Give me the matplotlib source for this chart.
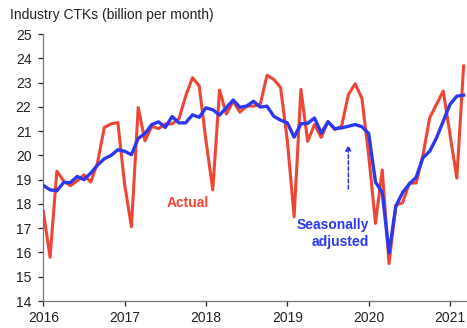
import matplotlib
matplotlib.use('Agg')
import matplotlib.pyplot as plt

# monthly values, Jan 2016 - Mar 2021
actual = [17.7, 15.8, 19.35, 18.95, 18.75, 18.95, 19.2, 18.9, 19.7, 21.15, 21.3, 21.35,
          18.8, 17.06, 21.97, 20.6, 21.2, 21.1, 21.3, 21.3, 21.5, 22.44, 23.2, 22.86,
          20.6, 18.58, 22.69, 21.7, 22.23, 21.78, 22.03, 22.03, 22.1, 23.3, 23.13, 22.8,
          20.6, 17.47, 22.72, 20.58, 21.27, 20.74, 21.4, 21.06, 21.2, 22.5, 22.95, 22.35,
          20.0, 17.2, 19.4, 15.54, 17.95, 18.05, 18.86, 18.86, 20.0, 21.55, 22.1, 22.65,
          20.85, 19.06, 23.68]
seas_adj = [18.76, 18.58, 18.54, 18.88, 18.88, 19.13, 19.0, 19.27, 19.6, 19.86, 20.0, 20.23,
            20.17, 20.03, 20.7, 20.9, 21.27, 21.38, 21.15, 21.6, 21.34, 21.34, 21.67, 21.57,
            21.96, 21.88, 21.66, 21.96, 22.28, 21.98, 22.03, 22.23, 21.99, 22.03, 21.61, 21.45,
            21.34, 20.75, 21.3, 21.32, 21.54, 20.92, 21.38, 21.1, 21.13, 21.2, 21.27, 21.18,
            20.9, 18.9, 18.47, 15.98, 17.9, 18.47, 18.82, 19.1, 19.9, 20.17, 20.72, 21.41,
            22.1, 22.44, 22.48]
years = ['2016', '2017', '2018', '2019', '2020', '2021']
yticks = list(range(14, 26))

red = '#EE4535'
blue = '#2B38EE'
plt.rcParams['font.family'] = ['Liberation Sans', 'DejaVu Sans']

fig = plt.figure(figsize=(4.67, 3.28), dpi=100)
ax = fig.add_axes([0.0927, 0.0823, 0.9073, 0.814])

months = list(range(len(actual)))
ax.plot(months, actual, color=red, lw=2.2, zorder=2)
ax.plot(months, seas_adj, color=blue, lw=2.4, zorder=3)

ax.set_xlim(0, 62.5)
ax.set_ylim(14, 25)
ax.set_yticks(yticks)
ax.set_xticks([12 * i for i in range(len(years))])
ax.set_xticklabels(years)
ax.tick_params(axis='both', labelsize=10, colors='#222222', length=3.5, width=0.9)
ax.tick_params(axis='y', pad=5)
ax.tick_params(axis='x', pad=4)
for s in ['top', 'right']:
    ax.spines[s].set_visible(False)
for s in ['left', 'bottom']:
    ax.spines[s].set_color('#777777')
    ax.spines[s].set_linewidth(0.9)

ax.text(21.3, 18.05, 'Actual', color=red, fontsize=10, fontweight='bold',
        ha='center', va='center')
ax.text(48.0, 16.78, 'Seasonally\nadjusted', color=blue, fontsize=10, fontweight='bold',
        ha='right', va='center', linespacing=1.2, multialignment='right')
ax.annotate('', xy=(45, 20.55), xytext=(45, 18.5),
            arrowprops=dict(arrowstyle='-|>', color=blue, lw=1.1,
                            linestyle=(0, (2.5, 1.5)), mutation_scale=8))

fig.text(0.021, 0.954, 'Industry CTKs (billion per month)', fontsize=10,
         color='#222222', ha='left', va='center')

fig.savefig('out.png', dpi=100)
